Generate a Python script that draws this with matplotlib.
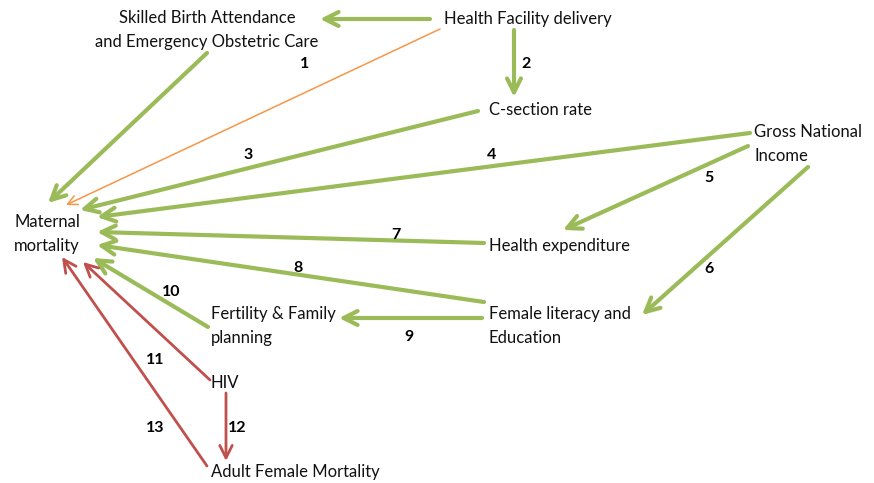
import matplotlib.pyplot as plt

# Node labels and where their text sits (pixel coords, y downwards)
node_labels = ["Skilled Birth Attendance\nand Emergency Obstetric Care", "Health Facility delivery",
               "C-section rate", "Gross National\nIncome", "Maternal\nmortality",
               "Health expenditure", "Female literacy and\nEducation", "Fertility & Family\nplanning",
               "HIV", "Adult Female Mortality"]
node_x = [207, 444, 489, 754, 14, 489, 489, 211, 211, 211]
node_y = [30, 19, 110, 144, 234, 246, 326, 326, 383, 472]
node_ha = ["center", "left", "left", "left", "left", "left", "left", "left", "left", "left"]

# Arrows: tail -> head, label number and kind
arrow_x0 = [430, 207, 440, 514, 478, 750, 748, 808, 484, 484, 482, 208, 210, 226, 207]
arrow_y0 = [19, 53, 29, 30, 111, 133, 146, 167, 243, 302, 318, 327, 380, 393, 466]
arrow_x1 = [320, 48, 66, 514, 80, 97, 563, 642, 97, 97, 339, 93, 83, 226, 62]
arrow_y1 = [19, 203, 205, 97, 210, 217, 230, 315, 232, 245, 318, 258, 262, 461, 257]
arrow_kind = ["g", "g", "o", "g", "g", "g", "g", "g", "g", "g", "g", "g", "r", "r", "r"]

# Numbered link labels
num_text = ["1", "2", "3", "4", "5", "6", "7", "8", "9", "10", "11", "12", "13"]
num_x = [305, 526, 248, 492, 709, 709, 396, 298, 409, 171, 155, 237, 155]
num_y = [64, 64, 155, 155, 178, 269, 235, 268, 337, 292, 360, 428, 428]

styles = {"g": dict(color="#9bbb59", lw=3.0, head_length=1.0, head_width=0.5),
          "o": dict(color="#f79646", lw=1.1, head_length=0.7, head_width=0.35),
          "r": dict(color="#c0504d", lw=2.0, head_length=0.9, head_width=0.45)}

plt.rcParams['font.family'] = ['Lato', 'DejaVu Sans']

fig = plt.figure(figsize=(8.74, 4.83), dpi=100)
ax = fig.add_axes([0, 0, 1, 1])
ax.set_xlim(0, 874)
ax.set_ylim(483, 0)
ax.axis('off')

for i in range(len(arrow_x0)):
    s = styles[arrow_kind[i]]
    ax.annotate("", xy=(arrow_x1[i], arrow_y1[i]), xytext=(arrow_x0[i], arrow_y0[i]),
                arrowprops=dict(arrowstyle="->,head_length=%g,head_width=%g" % (s["head_length"], s["head_width"]),
                                color=s["color"], lw=s["lw"], shrinkA=0, shrinkB=0))

for i in range(len(node_labels)):
    ax.text(node_x[i], node_y[i], node_labels[i], ha=node_ha[i], va="center",
            fontsize=12, color="#111111", linespacing=1.65,
            multialignment=node_ha[i])

for i in range(len(num_text)):
    ax.text(num_x[i], num_y[i], num_text[i], ha="center", va="center",
            fontsize=11.5, fontweight="bold", color="black")

fig.savefig("out.png", dpi=100)
